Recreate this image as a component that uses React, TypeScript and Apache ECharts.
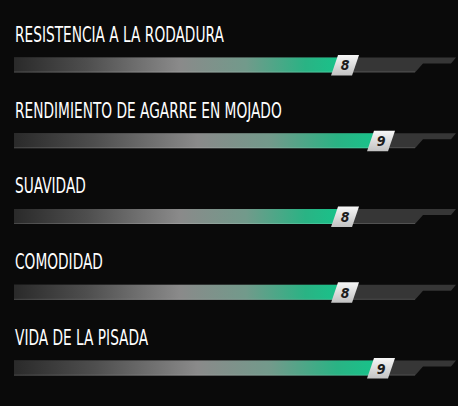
import React, { useEffect, useRef } from 'react';
import * as echarts from 'echarts';

// Ratings, top to bottom
const categories = [
  'RESISTENCIA A LA RODADURA',
  'RENDIMIENTO DE AGARRE EN MOJADO',
  'SUAVIDAD',
  'COMODIDAD',
  'VIDA DE LA PISADA'
];
const scores = [8, 9, 8, 8, 9];
const scaleMin = -1.2;
const scaleMax = 10;

const TITLE_FONT = '"Liberation Sans Narrow", "DejaVu Sans Condensed", "Roboto", sans-serif';
const TITLE_SIZE = 21;

// squeeze the titles so that they look like the condensed display face
function titleScale(): number {
  const canvas = document.createElement('canvas');
  const ctx = canvas.getContext('2d');
  if (!ctx) return 0.8;
  ctx.font = `${TITLE_SIZE}px ${TITLE_FONT}`;
  const w = ctx.measureText(categories[0]).width;
  return w > 0 ? 209 / w : 0.8;
}

const App: React.FC = () => {
  const chartRef = useRef<HTMLDivElement>(null);

  useEffect(() => {
    document.body.style.margin = '0';
    document.body.style.background = '#0a0a0a';
    if (!chartRef.current) return;

    const chart = echarts.init(chartRef.current, undefined, { renderer: 'svg' });
    const sx = titleScale();

    const barFill = new echarts.graphic.LinearGradient(0, 0, 1, 0, [
      { offset: 0, color: '#2a2a2a' },
      { offset: 0.22, color: '#4e4e4e' },
      { offset: 0.5, color: '#8a8a8a' },
      { offset: 0.7, color: '#729a8b' },
      { offset: 0.88, color: '#2ab384' },
      { offset: 1, color: '#15c58b' }
    ]);
    const boxFill = new echarts.graphic.LinearGradient(0, 0, 0, 1, [
      { offset: 0, color: '#f7f7f7' },
      { offset: 1, color: '#c2c2c2' }
    ]);

    const renderItem = (_params: any, api: any) => {
      const v = api.value(0);
      const idx = api.value(1);
      const [x0, cy] = api.coord([scaleMin, idx]);
      const [xe] = api.coord([v, idx]);
      const [xf] = api.coord([scaleMax, idx]);
      const top = cy - 7.5;
      const bot = cy + 7.5;

      return {
        type: 'group',
        children: [
          {
            type: 'text',
            x: 15,
            y: cy - 30.5,
            scaleX: sx,
            style: {
              text: categories[idx],
              x: 0,
              y: 0,
              fill: '#ffffff',
              font: `${TITLE_SIZE}px ${TITLE_FONT}`,
              verticalAlign: 'middle'
            }
          },
          {
            type: 'polygon',
            shape: {
              points: [
                [x0, top], [xf + 39, top], [xf + 34, cy - 1.5],
                [xf + 6, cy - 1.5], [xf - 2, bot], [x0, bot]
              ]
            },
            style: { fill: '#363636' }
          },
          {
            type: 'rect',
            shape: { x: x0, y: top, width: xe - x0, height: bot - top },
            style: { fill: barFill }
          },
          {
            type: 'line',
            shape: { x1: x0, y1: bot - 0.5, x2: xf - 2, y2: bot - 0.5 },
            style: { stroke: 'rgba(255,255,255,0.14)', lineWidth: 1 }
          },
          {
            type: 'polygon',
            shape: {
              points: [
                [xe - 7, cy - 10], [xe + 14, cy - 10],
                [xe + 7, cy + 10.5], [xe - 14, cy + 10.5]
              ]
            },
            style: { fill: boxFill }
          },
          {
            type: 'text',
            x: xe,
            y: cy + 0.5,
            style: {
              text: String(v),
              fill: '#1c1c1c',
              font: `italic 600 14px ${TITLE_FONT}`,
              align: 'center',
              verticalAlign: 'middle'
            }
          }
        ]
      };
    };

    const option: echarts.EChartsOption = {
      animation: false,
      backgroundColor: '#0a0a0a',
      grid: { left: 14, right: 41, top: 27, height: 389 },
      xAxis: { type: 'value', min: scaleMin, max: scaleMax, show: false },
      yAxis: { type: 'category', data: categories, inverse: true, show: false },
      series: [
        {
          type: 'custom',
          renderItem: renderItem as any,
          data: scores.map((s, i) => [s, i]),
          clip: false
        }
      ]
    };

    chart.setOption(option);

    return () => {
      chart.dispose();
    };
  }, []);

  return <div ref={chartRef} style={{ width: 458, height: 406 }} />;
};

export default App;
